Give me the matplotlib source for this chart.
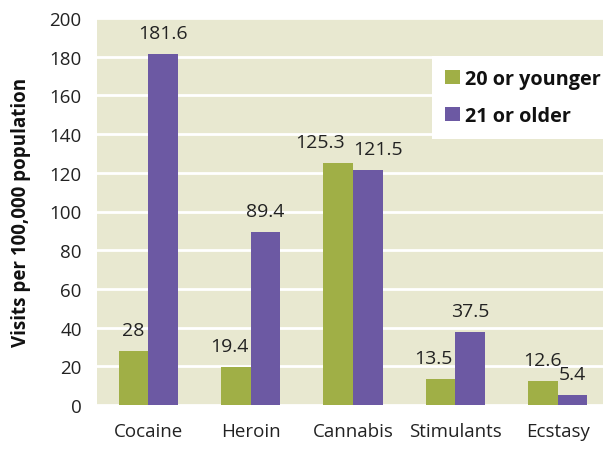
import matplotlib.pyplot as plt
import numpy as np

categories = ["Cocaine", "Heroin", "Cannabis", "Stimulants", "Ecstasy"]
younger = [28, 19.4, 125.3, 13.5, 12.6]
older = [181.6, 89.4, 121.5, 37.5, 5.4]
younger_labels = ["28", "19.4", "125.3", "13.5", "12.6"]
older_labels = ["181.6", "89.4", "121.5", "37.5", "5.4"]

# horizontal nudges (points) so labels don't run into the neighbour bar
younger_nudge = [0, -4.5, -13, -5, 0]
older_nudge = [0, 0, 7.5, 0, 0]

plt.rcParams["font.family"] = ["Open Sans", "DejaVu Sans"]

green = "#A0AF46"
purple = "#6C59A3"
text_col = "#222222"

fig = plt.figure(figsize=(6.03, 4.52), dpi=100)
ax = fig.add_axes([97 / 603, 46 / 452, 512 / 603, 387 / 452])
ax.set_facecolor("#E8E8D0")

x = np.arange(len(categories))
w = 0.29
b1 = ax.bar(x - w / 2, younger, w, color=green, label="20 or younger", zorder=3)
b2 = ax.bar(x + w / 2, older, w, color=purple, label="21 or older", zorder=3)

for bars, labels, nudges in [(b1, younger_labels, younger_nudge), (b2, older_labels, older_nudge)]:
    for rect, txt, dx in zip(bars, labels, nudges):
        ax.annotate(txt, (rect.get_x() + rect.get_width() / 2, rect.get_height()),
                    xytext=(dx, 11.5), textcoords="offset points",
                    ha="center", va="baseline", fontsize=14, color=text_col, zorder=4)

ax.set_xlim(-0.5, len(categories) - 0.5)
ax.set_ylim(0, 200)
ax.set_yticks(range(0, 201, 20))
ax.set_xticks(x)
ax.set_xticklabels(categories)
ax.tick_params(axis="both", length=0, labelsize=13.5, colors=text_col)
ax.tick_params(axis="x", pad=12)
ax.tick_params(axis="y", pad=11)
ax.grid(axis="y", color="white", linewidth=2, zorder=1)
for s in ax.spines.values():
    s.set_visible(False)

ax.set_ylabel("Visits per 100,000 population", fontsize=13.5, fontweight="bold",
              labelpad=13, color="#111111")

leg = ax.legend(loc="upper left", bbox_to_anchor=((432 - 97) / 512, (406 - 57) / 387),
                frameon=True, fancybox=False, edgecolor="none", facecolor="white",
                framealpha=1, prop={"size": 14.3, "weight": "bold"}, handlelength=0.75,
                handleheight=0.75, handletextpad=0.25, labelspacing=0.85,
                borderpad=0.65, borderaxespad=0)
leg.set_zorder(5)
for t in leg.get_texts():
    t.set_color("#111111")

fig.savefig("out.png", dpi=100)
